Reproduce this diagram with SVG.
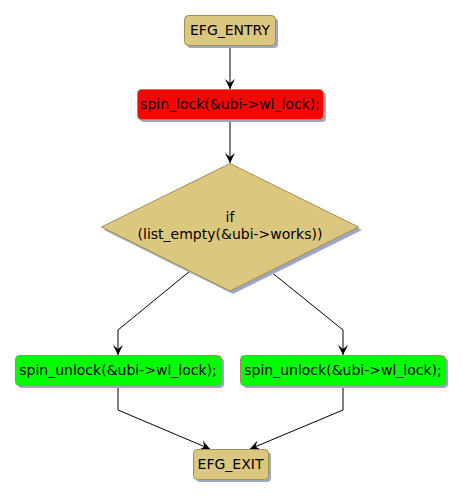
<svg xmlns="http://www.w3.org/2000/svg" width="463" height="498" viewBox="0 0 463 498">
<style>
.box{stroke:#A38F52;stroke-width:1}
.tan{fill:#DBC77E}
.red{fill:#FF0000}
.green{fill:#00FF00}
.shadow{fill:#9AA9C6}
.t{font-family:"DejaVu Sans",sans-serif;font-size:14px;fill:#000;text-anchor:middle}
.edge{fill:none;stroke:#000;stroke-width:1}
</style>
<defs>
<marker id="arr" markerUnits="userSpaceOnUse" markerWidth="12" markerHeight="12" viewBox="-11 -6 12 12" refX="0" refY="0" orient="auto">
<path d="M0,0 L-10,-5 L-6,0 L-10,5 Z" fill="#000"/>
</marker>
</defs>
<rect width="463" height="498" fill="#fff"/>
<g id="edges">
<path class="edge" d="M230,45 L230,89" marker-end="url(#arr)"/>
<path class="edge" d="M230,119 L230,163" marker-end="url(#arr)"/>
<path class="edge" d="M190,271 L118,330 L118,355" marker-end="url(#arr)"/>
<path class="edge" d="M270,271 L343,330 L343,355" marker-end="url(#arr)"/>
<path class="edge" d="M118,385 L118,410 L210,449" marker-end="url(#arr)"/>
<path class="edge" d="M343,385 L343,410 L250,449" marker-end="url(#arr)"/>
</g>
<g id="entry">
<rect class="shadow" x="187" y="18" width="91" height="30" rx="4"/>
<rect class="box tan" x="184.5" y="15.5" width="91" height="30" rx="4"/>
<text class="t" x="230" y="35">EFG_ENTRY</text>
</g>
<g id="lock">
<rect class="shadow" x="140" y="92" width="186" height="30" rx="4"/>
<rect class="box red" x="137.5" y="89.5" width="186" height="30" rx="4"/>
<text class="t" x="230" y="109">spin_lock(&amp;ubi-&gt;wl_lock);</text>
</g>
<g id="cond">
<polygon class="shadow" points="233,166 362,230 233,294 104,230"/>
<polygon class="box tan" points="230,163.5 358.5,227 230,291 101.5,227"/>
<text class="t" x="230" y="222">if</text>
<text class="t" x="230" y="239">(list_empty(&amp;ubi-&gt;works))</text>
</g>
<g id="unlock1">
<rect class="shadow" x="18" y="358" width="206" height="30" rx="4"/>
<rect class="box green" x="15.5" y="355.5" width="206" height="30" rx="4"/>
<text class="t" x="118" y="375">spin_unlock(&amp;ubi-&gt;wl_lock);</text>
</g>
<g id="unlock2">
<rect class="shadow" x="243" y="358" width="205" height="30" rx="4"/>
<rect class="box green" x="240.5" y="355.5" width="205" height="30" rx="4"/>
<text class="t" x="343" y="375">spin_unlock(&amp;ubi-&gt;wl_lock);</text>
</g>
<g id="exit">
<rect class="shadow" x="196" y="452" width="75" height="30" rx="4"/>
<rect class="box tan" x="193.5" y="449.5" width="75" height="30" rx="4"/>
<text class="t" x="230.5" y="469">EFG_EXIT</text>
</g>
</svg>
